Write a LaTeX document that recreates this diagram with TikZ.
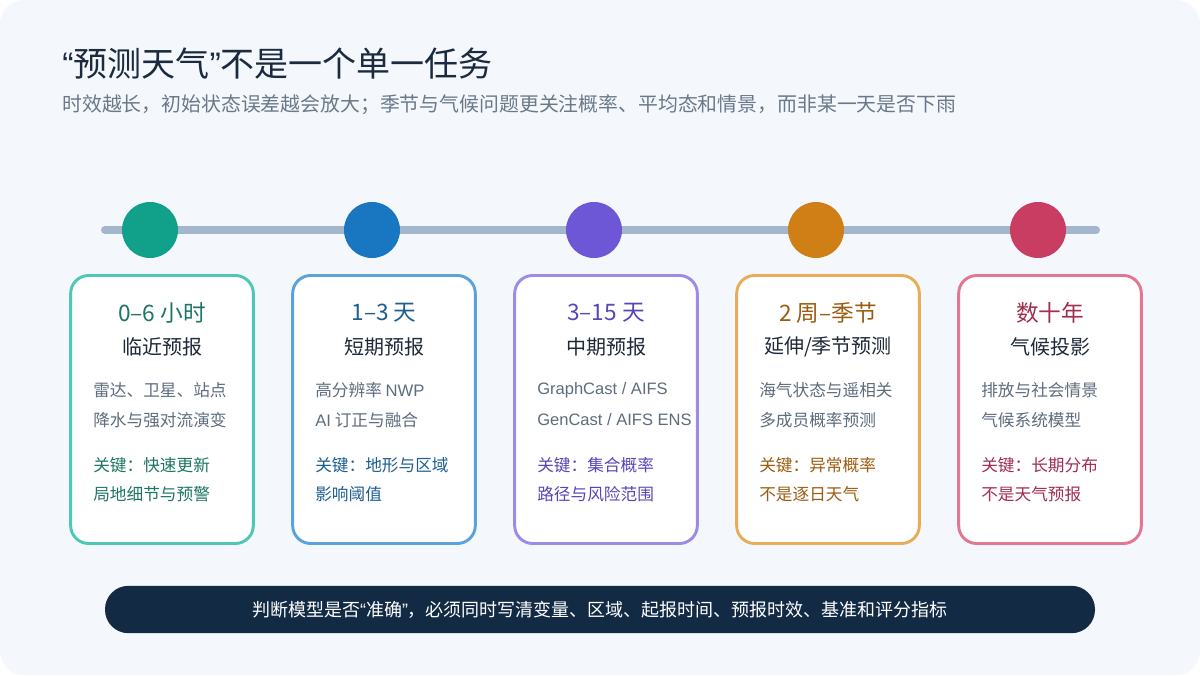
\documentclass[tikz,border=0pt]{standalone}
\usepackage{fontspec}
\setmainfont{Noto Sans CJK SC}
\newfontfamily\arialish{Liberation Sans}
\usepackage{xcolor}
\usetikzlibrary{positioning}

\definecolor{panelbg}{HTML}{F4F8FC}
\definecolor{trackgray}{HTML}{A3B6CB}
\definecolor{titleink}{HTML}{1B2A3E}
\definecolor{subink}{HTML}{6A7889}
\definecolor{bodyink}{HTML}{5E6C7D}
\definecolor{nameink}{HTML}{1F2937}
\definecolor{barnavy}{HTML}{132A45}
% dot / border / accent text per phase
\definecolor{tealdot}{HTML}{11A08A}
\definecolor{tealline}{HTML}{4FC7B6}
\definecolor{tealink}{HTML}{1D7566}
\definecolor{bluedot}{HTML}{1877C0}
\definecolor{blueline}{HTML}{5BA3DA}
\definecolor{blueink}{HTML}{1D5E91}
\definecolor{purpledot}{HTML}{6E57D6}
\definecolor{purpleline}{HTML}{9D8BE6}
\definecolor{purpleink}{HTML}{5A45B8}
\definecolor{orangedot}{HTML}{D07E16}
\definecolor{orangeline}{HTML}{E8AD58}
\definecolor{orangeink}{HTML}{9C5C10}
\definecolor{rosedot}{HTML}{C93D63}
\definecolor{roseline}{HTML}{E27792}
\definecolor{roseink}{HTML}{A12D4F}

\begin{document}
\begin{tikzpicture}[x=0.75pt, y=-0.75pt,
    dot/.style={circle, minimum size=42pt, inner sep=0pt},
    card/.style={draw, line width=2.2pt, fill=white, rounded corners=13.5pt,
        minimum width=137pt, minimum height=201pt, inner sep=0pt},
    phase/.style={font=\fontsize{17}{20}\selectfont},
    stage/.style={font=\fontsize{15}{18}\selectfont, text=nameink},
    detail/.style={anchor=west, inner sep=0pt, font=\fontsize{12.5}{15}\selectfont, text=bodyink},
    keyline/.style={anchor=west, inner sep=0pt, font=\fontsize{12.5}{15}\selectfont}]

    % Canvas
    \useasboundingbox (0,0) rectangle (1200,675);
    \fill[white] (0,0) rectangle (1200,675);
    \fill[panelbg, rounded corners=18pt] (0,0) rectangle (1200,675);

    % Heading
    \node[anchor=west, inner sep=0pt, text=titleink, font=\fontsize{25.5}{29}\selectfont]
        (title) at (62,64) {{\arialish “}预测天气{\arialish ”}不是一个单一任务};
    \node[anchor=west, inner sep=0pt, text=subink, font=\fontsize{14.9}{18}\selectfont]
        (subtitle) at (62,105) {时效越长，初始状态误差越会放大；季节与气候问题更关注概率、平均态和情景，而非某一天是否下雨};

    % Timeline track and dots
    \coordinate (trackL) at (105,230);
    \coordinate (trackR) at (1096,230);
    \draw[trackgray, line width=6pt, line cap=round] (trackL) -- (trackR);
    \node[dot, fill=tealdot] (dot1) at (150,230) {};
    \node[dot, fill=bluedot] (dot2) at (372,230) {};
    \node[dot, fill=purpledot] (dot3) at (594,230) {};
    \node[dot, fill=orangedot] (dot4) at (816,230) {};
    \node[dot, fill=rosedot] (dot5) at (1038,230) {};

    % Card 1: nowcasting
    \node[card, draw=tealline] (card1) at (162,409.5) {};
    \node[phase, text=tealink] (phase1) at (162,313) {0–6 小时};
    \node[stage] (stage1) at (162,347) {临近预报};
    \node[detail] (det1a) at (93,390) {雷达、卫星、站点};
    \node[detail] (det1b) at (93,420) {降水与强对流演变};
    \node[keyline, text=tealink] (key1a) at (93,465) {关键：快速更新};
    \node[keyline, text=tealink] (key1b) at (93,494) {局地细节与预警};

    % Card 2: short range
    \node[card, draw=blueline] (card2) at (384,409.5) {};
    \node[phase, text=blueink] (phase2) at (384,313) {1–3 天};
    \node[stage] (stage2) at (384,347) {短期预报};
    \node[detail] (det2a) at (315,390) {高分辨率 {\arialish NWP}};
    \node[detail] (det2b) at (315,420) {{\arialish AI} 订正与融合};
    \node[keyline, text=blueink] (key2a) at (315,465) {关键：地形与区域};
    \node[keyline, text=blueink] (key2b) at (315,494) {影响阈值};

    % Card 3: medium range
    \node[card, draw=purpleline] (card3) at (606,409.5) {};
    \node[phase, text=purpleink] (phase3) at (606,313) {3–15 天};
    \node[stage] (stage3) at (606,347) {中期预报};
    \node[detail, font=\arialish\fontsize{12.4}{15}\selectfont] (det3a) at (537,390) {GraphCast / AIFS};
    \node[detail, font=\arialish\fontsize{12.4}{15}\selectfont] (det3b) at (537,420) {GenCast / AIFS ENS};
    \node[keyline, text=purpleink] (key3a) at (537,465) {关键：集合概率};
    \node[keyline, text=purpleink] (key3b) at (537,494) {路径与风险范围};

    % Card 4: extended / seasonal
    \node[card, draw=orangeline] (card4) at (828,409.5) {};
    \node[phase, text=orangeink] (phase4) at (828,313) {2 周–季节};
    \node[stage] (stage4) at (828,347) {延伸/季节预测};
    \node[detail] (det4a) at (759,390) {海气状态与遥相关};
    \node[detail] (det4b) at (759,420) {多成员概率预测};
    \node[keyline, text=orangeink] (key4a) at (759,465) {关键：异常概率};
    \node[keyline, text=orangeink] (key4b) at (759,494) {不是逐日天气};

    % Card 5: climate projection
    \node[card, draw=roseline] (card5) at (1050,409.5) {};
    \node[phase, text=roseink] (phase5) at (1050,313) {数十年};
    \node[stage] (stage5) at (1050,347) {气候投影};
    \node[detail] (det5a) at (981,390) {排放与社会情景};
    \node[detail] (det5b) at (981,420) {气候系统模型};
    \node[keyline, text=roseink] (key5a) at (981,465) {关键：长期分布};
    \node[keyline, text=roseink] (key5b) at (981,494) {不是天气预报};

    % Bottom note
    \node[fill=barnavy, rounded corners=17.5pt, minimum width=742.5pt, minimum height=35.5pt,
        inner sep=0pt, text=white, font=\fontsize{13.5}{15}\selectfont]
        (note) at (600,609.5) {判断模型是否{\arialish “}准确{\arialish ”}，必须同时写清变量、区域、起报时间、预报时效、基准和评分指标};

\end{tikzpicture}
\end{document}
